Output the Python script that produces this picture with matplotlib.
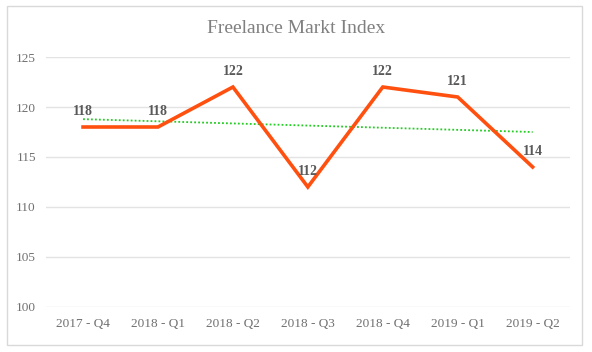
import numpy as np
import matplotlib.pyplot as plt
from matplotlib.patches import Rectangle

# Data
quarters = ["2017 - Q4", "2018 - Q1", "2018 - Q2", "2018 - Q3", "2018 - Q4", "2019 - Q1", "2019 - Q2"]
index_values = [118, 118, 122, 112, 122, 121, 114]

plt.rcParams["font.family"] = ["Liberation Serif", "DejaVu Serif"]

fig = plt.figure(figsize=(5.92, 3.52), dpi=100)
ax = fig.add_axes([0.077, 0.128, 0.886, 0.71])

x = np.arange(len(quarters))

# Linear trendline like Excel
slope, intercept = np.polyfit(x, index_values, 1)
ax.plot(x, slope * x + intercept, color="#22cc22", linestyle=(0, (1, 1.2)), linewidth=1.3, zorder=2)

ax.plot(x, index_values, color="#ff5010", linewidth=2.6, solid_joinstyle="miter", zorder=3)

for xi, v in zip(x, index_values):
    ax.annotate(str(v), (xi, v), xytext=(0, 11.5), textcoords="offset points",
                ha="center", va="center", fontsize=10, fontweight="bold", color="#595959", zorder=4)

ax.set_xlim(-0.5, len(quarters) - 0.5)
ax.set_ylim(100, 125)
ax.set_yticks(range(100, 126, 5))
ax.set_xticks(x)
ax.set_xticklabels(quarters)
ax.tick_params(axis="both", length=0, labelsize=9.5, labelcolor="#707070")
ax.tick_params(axis="x", pad=8)
ax.tick_params(axis="y", pad=7)
ax.grid(axis="y", color="#e3e3e3", linewidth=1)
ax.set_axisbelow(True)
for s in ax.spines.values():
    s.set_visible(False)

fig.text(0.5, 0.92, "Freelance Markt Index", ha="center", va="center", fontsize=14, color="#808080")

# outer chart border
fig.patches.append(Rectangle((7 / 592, 1 - 345 / 352), 575 / 592, 339 / 352, transform=fig.transFigure,
                             fill=False, edgecolor="#d9d9d9", linewidth=1))

plt.savefig("out.png", dpi=100)
